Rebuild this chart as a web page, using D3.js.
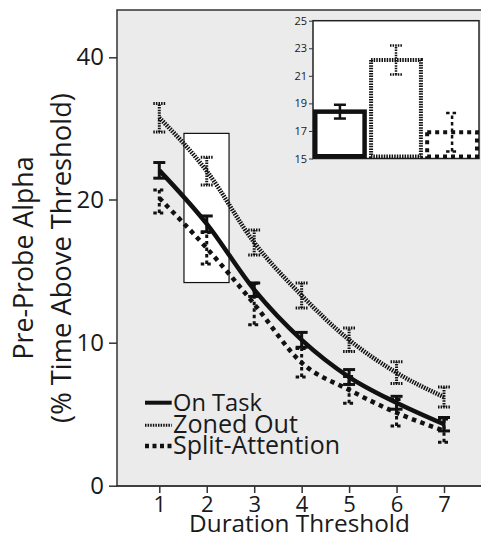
<!DOCTYPE html>
<html>
<head>
<meta charset="utf-8">
<script src="https://cdn.jsdelivr.net/npm/d3@7"></script>
<style>
body { margin: 0; background: #fff; }
svg text { font-family: "Open Sans", "Noto Sans", sans-serif; fill: #1a1a1a; }
</style>
</head>
<body>
<svg id="chart" width="481" height="540"></svg>
<script>
// main chart: % time above threshold for each duration threshold
var durations = [1, 2, 3, 4, 5, 6, 7];
var onTask = [24.1, 18.3, 13.7, 10.2, 7.6, 5.8, 4.3];
var onTaskErr = [1.1, 0.55, 0.47, 0.52, 0.52, 0.45, 0.47];
var zonedOut = [31.5, 24.0, 17.0, 13.3, 10.2, 7.9, 6.2];
var zonedOutErr = [2.0, 1.95, 0.87, 0.87, 0.82, 0.76, 0.7];
var splitAttention = [20.2, 16.6, 12.7, 8.6, 6.7, 5.1, 3.85];
var splitAttentionErr = [1.15, 1.1, 1.45, 1.0, 0.93, 0.93, 0.82];
var yTicks = [0, 10, 20, 40];

// inset: means at the highlighted threshold
var insetGroups = ['On Task', 'Zoned Out', 'Split-Attention'];
var insetMeans = [18.4, 22.15, 16.9];
var insetErr = [0.5, 1.05, 1.4];
var insetTicks = [15, 17, 19, 21, 23, 25];

// highlighted region (data units)
var boxX = [1.52, 2.47];
var boxY = [14.2, 29.3];

var svg = d3.select('#chart');

// line style per group
var styles = {
    'On Task': {width: 4.5, dash: null, errDash: null, legW: 4},
    'Zoned Out': {width: 4.5, dash: '1.5,1.1', errDash: '1.5,1.1', legW: 3},
    'Split-Attention': {width: 4.5, dash: '4.5,4.5', errDash: '3.5,3', legW: 4.5}
};

var series = [
    {name: 'On Task', values: onTask, err: onTaskErr},
    {name: 'Zoned Out', values: zonedOut, err: zonedOutErr},
    {name: 'Split-Attention', values: splitAttention, err: splitAttentionErr}
];

var plot = {l: 117, t: 10, r: 495, b: 486};

var x = d3.scaleLinear().domain([1, 7]).range([159.3, 444]);
// the y axis is broken into even steps 0-10-20-40
var y = d3.scaleLinear().domain(yTicks).range([485.7, 342.7, 199.5, 57.3]);

function fitWidth(sel, target) {
    var fs = parseFloat(sel.attr('font-size'));
    var w = sel.node().getComputedTextLength();
    sel.attr('font-size', fs * target / w);
}

// panel
svg.append('rect')
    .attr('x', plot.l).attr('y', plot.t)
    .attr('width', plot.r - plot.l).attr('height', plot.b - plot.t)
    .attr('fill', '#ebebeb')
    .attr('stroke', '#333').attr('stroke-width', 1.5);

// highlight box
svg.append('rect')
    .attr('x', x(boxX[0])).attr('y', y(boxY[1]))
    .attr('width', x(boxX[1]) - x(boxX[0]))
    .attr('height', y(boxY[0]) - y(boxY[1]))
    .attr('fill', '#fff').attr('stroke', '#111').attr('stroke-width', 1.2);

// axes
var yAxis = svg.append('g')
    .attr('transform', 'translate(' + plot.l + ',0)')
    .call(d3.axisLeft(y).tickValues(yTicks).tickSize(8).tickPadding(5).tickFormat(d3.format('d')));
var xAxis = svg.append('g')
    .attr('transform', 'translate(0,' + plot.b + ')')
    .call(d3.axisBottom(x).tickValues(durations).tickSize(7).tickPadding(3).tickFormat(d3.format('d')));
[yAxis, xAxis].forEach(function(a) {
    a.select('.domain').remove();
    a.selectAll('line').attr('stroke', '#333').attr('stroke-width', 1.5);
    a.selectAll('text').attr('font-size', 24).attr('fill', '#1a1a1a')
        .style('font-family', '"Open Sans", "Noto Sans", sans-serif');
});
xAxis.selectAll('text').attr('font-size', 22);
svg.append('line')
    .attr('x1', plot.l - 1).attr('x2', plot.r)
    .attr('y1', plot.b).attr('y2', plot.b)
    .attr('stroke', '#333').attr('stroke-width', 1.5);

// lines
var line = d3.line()
    .x(function(d) { return x(d.x); })
    .y(function(d) { return y(d.v); })
    .curve(d3.curveMonotoneX);

series.forEach(function(s) {
    var st = styles[s.name];
    var pts = durations.map(function(d, i) { return {x: d, v: s.values[i], e: s.err[i]}; });
    var g = svg.append('g');
    g.append('path')
        .datum(pts)
        .attr('d', line)
        .attr('fill', 'none')
        .attr('stroke', '#111')
        .attr('stroke-width', st.width)
        .attr('stroke-dasharray', st.dash);
    // error bars
    var eb = g.selectAll('.err').data(pts).enter().append('g').attr('class', 'err')
        .attr('stroke', '#111')
        .attr('stroke-dasharray', st.errDash);
    eb.append('line')
        .attr('x1', function(d) { return x(d.x); })
        .attr('x2', function(d) { return x(d.x); })
        .attr('y1', function(d) { return y(d.v - d.e); })
        .attr('y2', function(d) { return y(d.v + d.e); })
        .attr('stroke-width', 3);
    eb.selectAll('.cap').data(function(d) { return [d.v - d.e, d.v + d.e].map(function(v) { return {x: d.x, v: v}; }); })
        .enter().append('line').attr('class', 'cap')
        .attr('x1', function(d) { return x(d.x) - 6; })
        .attr('x2', function(d) { return x(d.x) + 6; })
        .attr('y1', function(d) { return y(d.v); })
        .attr('y2', function(d) { return y(d.v); })
        .attr('stroke-width', 3);
});

// legend
var legRows = [410.7, 433.3, 454];
var legWidths = [89, 125, 167];
series.forEach(function(s, i) {
    var st = styles[s.name];
    svg.append('line')
        .attr('x1', 145).attr('x2', 171.7)
        .attr('y1', legRows[i] - 8).attr('y2', legRows[i] - 8)
        .attr('stroke', '#111')
        .attr('stroke-width', st.legW)
        .attr('stroke-dasharray', s.name === 'Split-Attention' ? '4,3.5' : st.dash);
    var t = svg.append('text')
        .attr('x', 173).attr('y', legRows[i])
        .attr('font-size', 26)
        .text(s.name);
    fitWidth(t, legWidths[i]);
});

// inset
var xi = d3.scaleBand().domain(insetGroups).range([313, 479]).paddingInner(0.04);
var yi = d3.scaleLinear().domain([15, 25]).range([158.5, 20.7]);

svg.append('rect')
    .attr('x', 313).attr('y', yi(25))
    .attr('width', 479 - 313).attr('height', yi(15) - yi(25))
    .attr('fill', '#fff').attr('stroke', '#222').attr('stroke-width', 1.5);

var insetAxis = svg.append('g')
    .attr('transform', 'translate(313,0)')
    .call(d3.axisLeft(yi).tickValues(insetTicks).tickSize(4).tickPadding(2));
insetAxis.select('.domain').remove();
insetAxis.selectAll('line').attr('stroke', '#333');
insetAxis.selectAll('text').attr('font-size', 11).attr('fill', '#1a1a1a')
    .style('font-family', '"Open Sans", "Noto Sans", sans-serif');

insetGroups.forEach(function(g, i) {
    var st = styles[g];
    var sw = g === 'On Task' ? 4.5 : 4;
    var bx = xi(g), bw = xi.bandwidth();
    svg.append('rect')
        .attr('x', bx + sw / 2).attr('y', yi(insetMeans[i]))
        .attr('width', bw - sw).attr('height', yi(15) - yi(insetMeans[i]) - sw / 2)
        .attr('fill', '#fff').attr('stroke', '#111').attr('stroke-width', sw)
        .attr('stroke-dasharray', g === 'Split-Attention' ? '4,4' : st.dash);
    var cx = bx + bw / 2;
    var eg = svg.append('g').attr('stroke', '#111').attr('stroke-width', 2.5)
        .attr('stroke-dasharray', st.errDash);
    eg.append('line').attr('x1', cx).attr('x2', cx)
        .attr('y1', yi(insetMeans[i] - insetErr[i])).attr('y2', yi(insetMeans[i] + insetErr[i]));
    [insetMeans[i] - insetErr[i], insetMeans[i] + insetErr[i]].forEach(function(v) {
        eg.append('line').attr('x1', cx - 6).attr('x2', cx + 6)
            .attr('y1', yi(v)).attr('y2', yi(v));
    });
});

// axis titles
var yl1 = svg.append('text')
    .attr('transform', 'translate(33,258) rotate(-90)')
    .attr('text-anchor', 'middle').attr('font-size', 28)
    .text('Pre-Probe Alpha');
fitWidth(yl1, 203);
var yl2 = svg.append('text')
    .attr('transform', 'translate(71,258) rotate(-90)')
    .attr('text-anchor', 'middle').attr('font-size', 28)
    .text('(% Time Above Threshold)');
fitWidth(yl2, 330);
var xl = svg.append('text')
    .attr('x', 299.5).attr('y', 532)
    .attr('text-anchor', 'middle').attr('font-size', 28)
    .text('Duration Threshold');
fitWidth(xl, 221);
</script>
</body>
</html>
